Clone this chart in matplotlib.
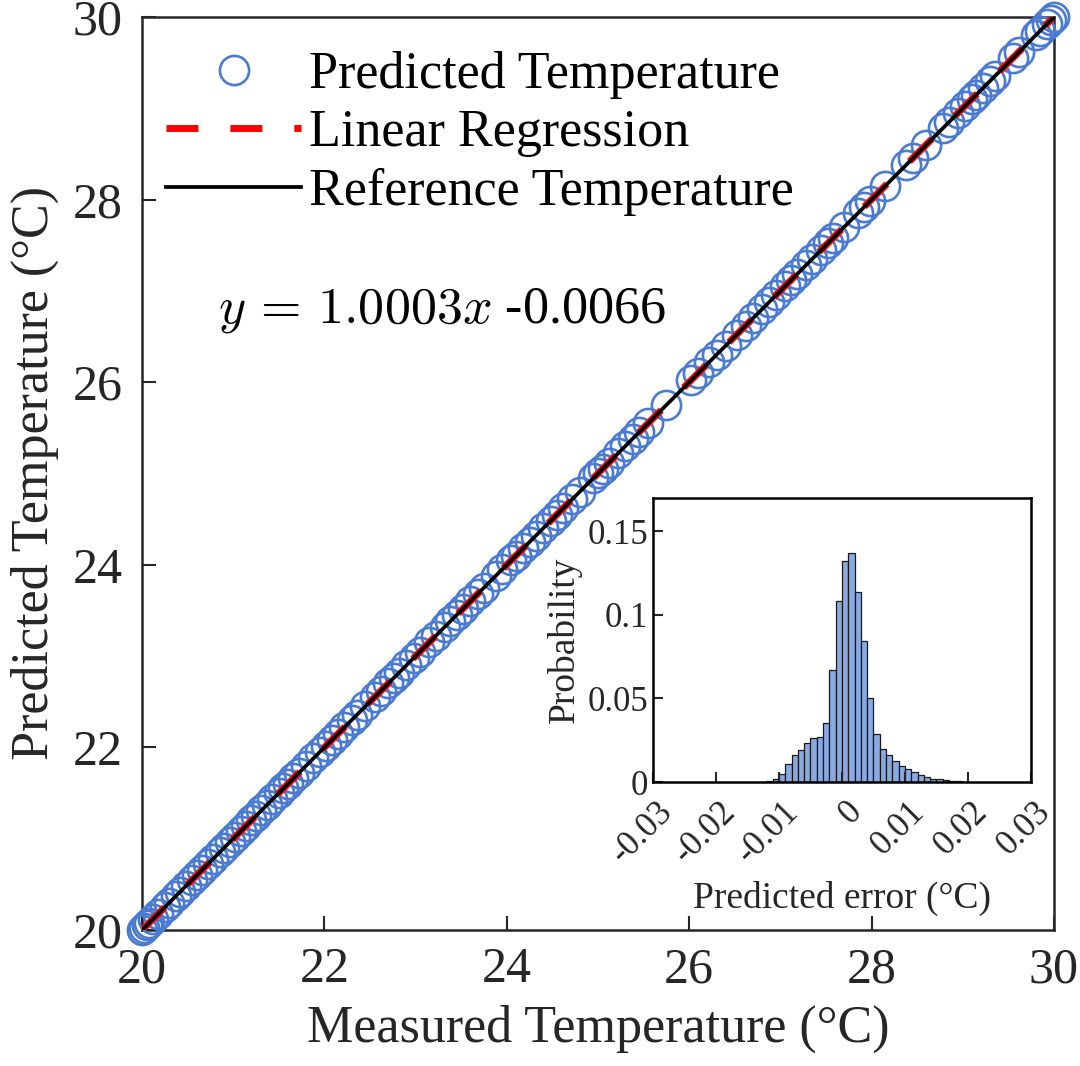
import numpy as np
import matplotlib
matplotlib.use('Agg')
import matplotlib.pyplot as plt
from matplotlib.transforms import ScaledTranslation

plt.rcParams['font.family'] = ['Liberation Serif', 'DejaVu Serif']
plt.rcParams['mathtext.fontset'] = 'cm'

# measured vs predicted temperature (degC)
measured_temp = [20.00, 20.02, 20.05, 20.08, 20.12, 20.18, 20.25, 20.30, 20.37, 20.42,
                 20.48, 20.55, 20.60, 20.66, 20.72, 20.78, 20.85, 20.90, 20.96, 21.02,
                 21.08, 21.14, 21.20, 21.25, 21.31, 21.37, 21.43, 21.50, 21.55, 21.60,
                 21.66, 21.72, 21.80, 21.88, 21.95, 22.02, 22.08, 22.15, 22.22, 22.30,
                 22.36, 22.45, 22.55, 22.62, 22.70, 22.76, 22.82, 22.90, 22.98, 23.05,
                 23.15, 23.22, 23.32, 23.38, 23.45, 23.52, 23.60, 23.68, 23.75, 23.88,
                 23.95, 24.05, 24.10, 24.18, 24.25, 24.32, 24.40, 24.48, 24.55, 24.62,
                 24.72, 24.80, 24.95, 25.00, 25.05, 25.12, 25.22, 25.30, 25.38, 25.45,
                 25.55, 25.75, 26.02, 26.10, 26.22, 26.30, 26.40, 26.52, 26.62, 26.70,
                 26.80, 26.88, 26.95, 27.05, 27.12, 27.18, 27.28, 27.35, 27.45, 27.52,
                 27.58, 27.70, 27.85, 27.92, 27.98, 28.15, 28.38, 28.45, 28.60, 28.78,
                 28.85, 28.95, 29.02, 29.10, 29.15, 29.22, 29.30, 29.35, 29.55, 29.62,
                 29.80, 29.85, 29.92, 29.97, 30.00]
predicted_temp = list(measured_temp)  # prediction errors (< 0.02 degC) are invisible here

slope = 1.0003
intercept = -0.0066
x_range = [20, 30]

# histogram of prediction errors, bin width 0.001 degC
err_left = [-0.012, -0.011, -0.010, -0.009, -0.008, -0.007, -0.006, -0.005, -0.004, -0.003,
            -0.002, -0.001, 0.000, 0.001, 0.002, 0.003, 0.004, 0.005, 0.006, 0.007,
            0.008, 0.009, 0.010, 0.011, 0.012, 0.013, 0.014, 0.015, 0.016, 0.017, 0.018]
err_prob = [0.0004, 0.0020, 0.0048, 0.0110, 0.0164, 0.0194, 0.0234, 0.0264, 0.0272, 0.0356,
            0.0670, 0.1086, 0.1326, 0.1370, 0.1138, 0.0844, 0.0502, 0.0290, 0.0198, 0.0162,
            0.0124, 0.0098, 0.0076, 0.0058, 0.0044, 0.0032, 0.0020, 0.0018, 0.0012, 0.0008,
            0.0004]

blue = '#4a7bd1'
dark = '#262626'

fig = plt.figure(figsize=(10.8, 10.66), dpi=100)
ax = fig.add_axes([0.1315, 0.1276, 0.8444, 0.8565])

ax.plot(measured_temp, predicted_temp, 'o', mfc='none', mec=blue, ms=21, mew=1.9,
        clip_on=False, label='Predicted Temperature', zorder=3)
xr = np.array(x_range, dtype=float)
ax.plot(xr, slope * xr + intercept, color='red', lw=5.0, ls=(0, (4.6, 4.6)),
        label='Linear Regression', zorder=4)
ax.plot(xr, xr, color='black', lw=2.7, label='Reference Temperature', zorder=5)

ax.set_xlim(20, 30)
ax.set_ylim(20, 30)
ax.set_xticks([20, 22, 24, 26, 28, 30])
ax.set_yticks([20, 22, 24, 26, 28, 30])
ax.tick_params(direction='in', length=10, width=1.5, labelsize=36, colors=dark,
               top=False, right=False)
ax.tick_params(axis='x', pad=12)
ax.tick_params(axis='y', pad=14)
for s in ax.spines.values():
    s.set_linewidth(1.8)
    s.set_color(dark)
ax.set_xlabel('Measured Temperature (°C)', fontsize=37.5, color=dark, labelpad=8)
ax.set_ylabel('Predicted Temperature (°C)', fontsize=37.5, color=dark, labelpad=10)

ax.text(20.83, 26.78, r'$y\,=\,1.0003x$ -0.0066', fontsize=37.5, va='center', ha='left')

leg = ax.legend(loc='upper left', bbox_to_anchor=(-0.008, 0.997), frameon=False,
                fontsize=37.5, handlelength=2.6, handletextpad=0.15, labelspacing=0.2,
                borderaxespad=0.2, numpoints=1)

# inset: error distribution
ins = fig.add_axes([0.6046, 0.2664, 0.35, 0.2664])
ins.bar(err_left, err_prob, width=0.001, align='edge', color='#89a9e0',
        edgecolor='#1a1a1a', linewidth=0.9)
ins.set_xlim(-0.03, 0.03)
ins.set_ylim(0, 0.17)
ins.set_xticks([-0.03, -0.02, -0.01, 0, 0.01, 0.02, 0.03])
ins.set_xticklabels(['-0.03', '-0.02', '-0.01', '0', '0.01', '0.02', '0.03'],
                    rotation=45, ha='right', va='center', rotation_mode='anchor')
ins.set_yticks([0, 0.05, 0.1, 0.15])
ins.set_yticklabels(['0', '0.05', '0.1', '0.15'])
ins.tick_params(direction='in', length=7, width=1.5, labelsize=25, colors=dark,
                top=False, right=False)
ins.tick_params(axis='x', pad=18)
shift = ScaledTranslation(0.15, 0, fig.dpi_scale_trans)
for lab in ins.get_xticklabels():
    lab.set_transform(lab.get_transform() + shift)
for s in ins.spines.values():
    s.set_linewidth(1.8)
    s.set_color('black')
ins.set_xlabel('Predicted error (°C)', fontsize=27, color=dark, labelpad=8)
ins.set_ylabel('Probability', fontsize=27, color=dark, labelpad=4)

fig.savefig('out.png', dpi=100)
